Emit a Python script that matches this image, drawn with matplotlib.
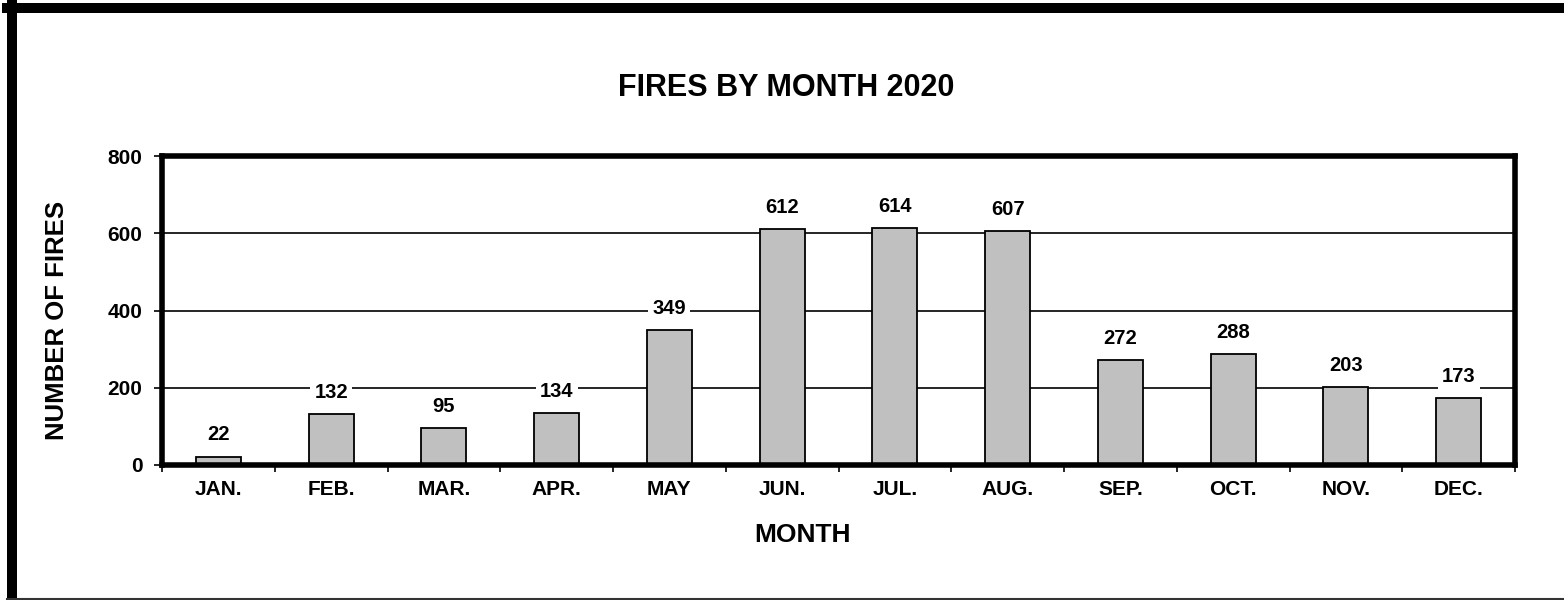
import matplotlib.pyplot as plt
from matplotlib.lines import Line2D
import numpy as np

plt.rcParams['font.family'] = ['Liberation Sans', 'DejaVu Sans']
plt.rcParams['font.weight'] = 'bold'

months = ['JAN.', 'FEB.', 'MAR.', 'APR.', 'MAY', 'JUN.',
          'JUL.', 'AUG.', 'SEP.', 'OCT.', 'NOV.', 'DEC.']
fires = [22, 132, 95, 134, 349, 612, 614, 607, 272, 288, 203, 173]
yticks = [0, 200, 400, 600, 800]

W, H = 1564, 600
fig = plt.figure(figsize=(W / 100, H / 100), dpi=100)
ax = fig.add_axes([162 / W, 1 - 465 / H, (1515 - 162) / W, (465 - 156) / H])

x = np.arange(len(months))
ax.bar(x, fires, width=0.4, color='#c0c0c0', edgecolor='black',
       linewidth=1.3, zorder=3)

for xi, v in zip(x, fires):
    ax.annotate(str(v), (xi, v), xytext=(0, 15.5), textcoords='offset points',
                ha='center', va='center', fontsize=14.5, fontweight='bold',
                bbox=dict(facecolor='white', edgecolor='none', pad=3),
                zorder=4)

ax.set_xlim(-0.5, len(months) - 0.5)
ax.set_ylim(0, 800)
ax.set_yticks(yticks)
ax.set_yticklabels([str(t) for t in yticks], fontsize=15, fontweight='bold')
ax.set_xticks(np.arange(-0.5, len(months)), labels=[''] * (len(months) + 1))
ax.set_xticks(x, minor=True)
ax.set_xticklabels(months, minor=True, fontsize=15, fontweight='bold')
ax.tick_params(axis='x', which='minor', length=0, pad=11)
ax.tick_params(axis='x', which='major', length=5, width=1.2, direction='out')
ax.tick_params(axis='y', length=6, width=1.2, pad=8)

for yy in yticks[1:-1]:
    ax.axhline(yy, color='black', linewidth=1.2, zorder=1)

for s in ax.spines.values():
    s.set_linewidth(4)
    s.set_zorder(5)

ax.set_xlabel('MONTH', fontsize=19, fontweight='bold', va='center')
ax.xaxis.set_label_coords((803 - 162) / (1515 - 162), (465 - 535) / (465 - 156))
ax.set_ylabel('NUMBER OF FIRES', fontsize=18.5, fontweight='bold', va='center')
ax.yaxis.set_label_coords((57 - 162) / (1515 - 162), (465 - 320) / (465 - 156))
fig.text(786 / W, 1 - 88 / H, 'FIRES BY MONTH 2020', ha='center', va='center',
         fontsize=22, fontweight='bold')

# outer frame (cut off on the right)
fig.add_artist(Line2D([12 / W, 12 / W], [0, 1 - 3 / H], color='black',
                      linewidth=7.2, transform=fig.transFigure))
fig.add_artist(Line2D([7 / W, 1], [1 - 8 / H, 1 - 8 / H], color='black',
                      linewidth=7.2, transform=fig.transFigure))
fig.add_artist(Line2D([7 / W, 1], [1.5 / H, 1.5 / H], color='#333333',
                      linewidth=1.5, transform=fig.transFigure))

fig.savefig('out.png', dpi=100)
